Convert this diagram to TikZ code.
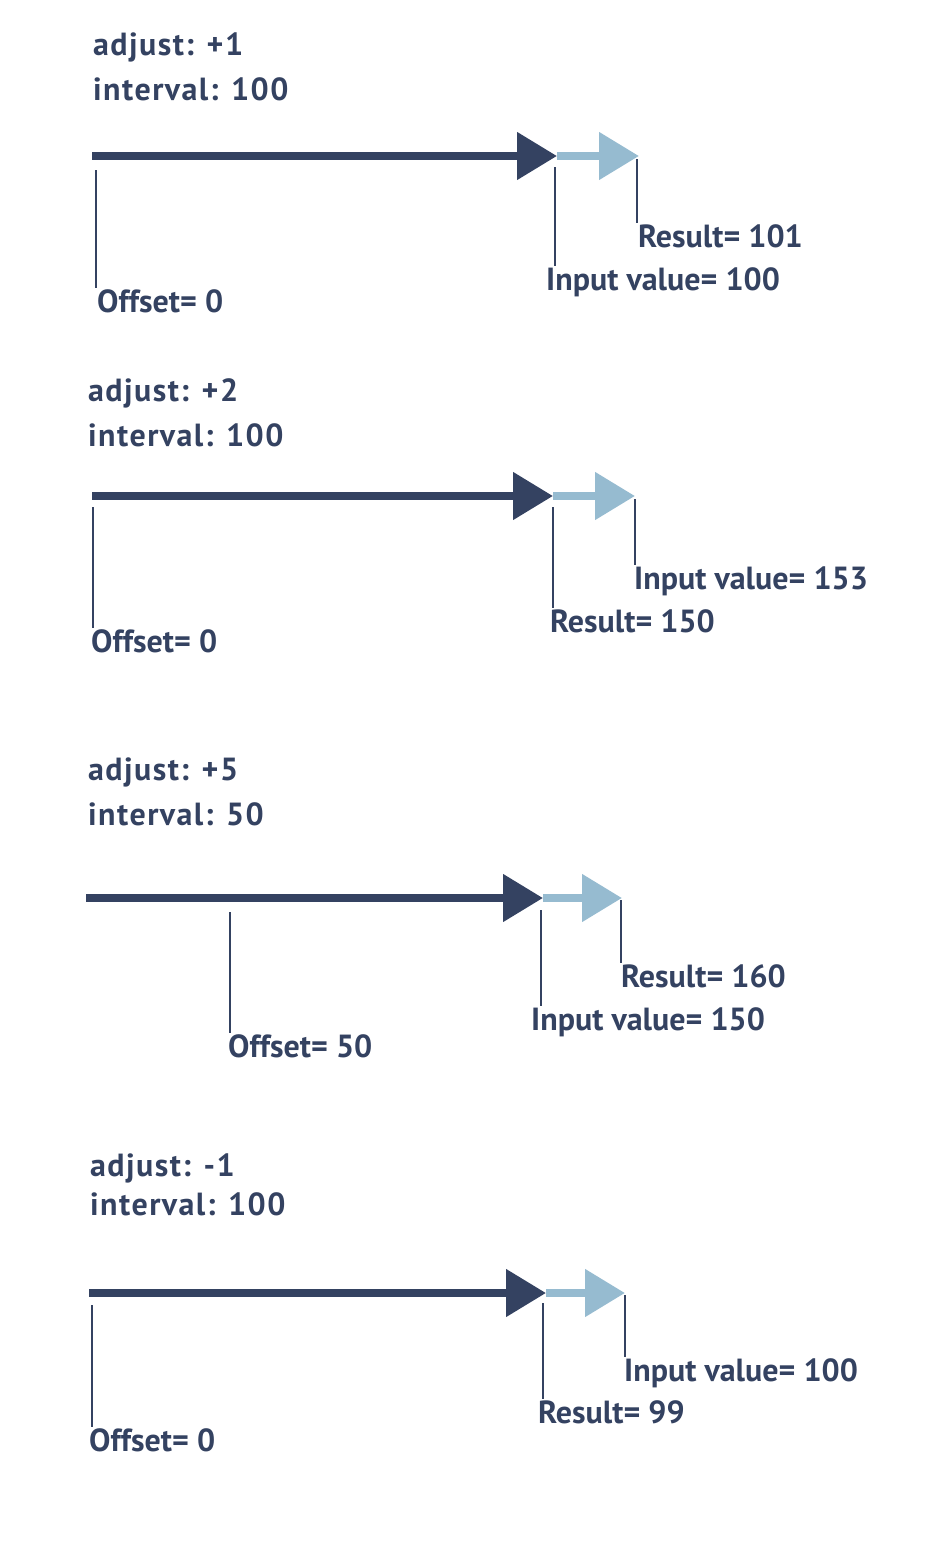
\documentclass[tikz,border=0pt]{standalone}
\usepackage{fontspec}
\setmainfont{PT Sans}
\newfontfamily\headfont{PT Sans}[LetterSpace=4.5]
\usepackage{tikz}
\usetikzlibrary{arrows.meta, positioning, calc}
\usepackage{xcolor}
\definecolor{navy}{RGB}{52,66,97}
\definecolor{skyblue}{RGB}{150,187,208}
\tikzstyle{heading} = [anchor=base west, inner sep=0pt, text=navy, font=\headfont\fontsize{32}{38}\selectfont\bfseries]
\tikzstyle{valuetext} = [anchor=base west, inner sep=1pt, text=navy, font=\fontsize{32}{38}\selectfont\bfseries]
\tikzstyle{shaft} = [line width=8pt, -{Triangle[length=40pt, width=46pt]}]
\tikzstyle{leader} = [draw=navy, line width=2.5pt]

\begin{document}
\begin{tikzpicture}[x=1pt, y=-1pt]
    \useasboundingbox (0,0) rectangle (935,1552);

    % panel 1
    \node (adj1) [heading] at (93,56) {adjust: +1};
    \node (int1) [heading] at (93,101) {interval: 100};
    \coordinate (s1) at (92,156);
    \coordinate (d1) at (557,156);
    \coordinate (l1) at (639,156);
    \draw [shaft, skyblue] (d1) -- (l1);
    \draw [shaft, navy] (s1) -- (d1);
    \node (off1) [valuetext] at (96,312) {Offset= 0};
    \node (inp1) [valuetext] at (545,290) {Input value= 100};
    \node (res1) [valuetext] at (637,247) {Result= 101};
    \coordinate (o1) at (96,170);
    \coordinate (i1) at (555,167);
    \coordinate (r1) at (637,159);
    \draw [leader] (o1) -- (o1 |- off1.north);
    \draw [leader] (i1) -- (i1 |- inp1.north);
    \draw [leader] (r1) -- (r1 |- res1.north);

    % panel 2
    \node (adj2) [heading] at (88,401) {adjust: +2};
    \node (int2) [heading] at (88,446) {interval: 100};
    \coordinate (s2) at (92,496);
    \coordinate (d2) at (553,496);
    \coordinate (l2) at (635,496);
    \draw [shaft, skyblue] (d2) -- (l2);
    \draw [shaft, navy] (s2) -- (d2);
    \node (off2) [valuetext] at (90,652) {Offset= 0};
    \node (res2) [valuetext] at (549,632) {Result= 150};
    \node (inp2) [valuetext] at (633,589) {Input value= 153};
    \coordinate (o2) at (93,507);
    \coordinate (r2) at (553,507);
    \coordinate (i2) at (635,499);
    \draw [leader] (o2) -- (o2 |- off2.north);
    \draw [leader] (r2) -- (r2 |- res2.north);
    \draw [leader] (i2) -- (i2 |- inp2.north);

    % panel 3
    \node (adj3) [heading] at (88,780) {adjust: +5};
    \node (int3) [heading] at (88,825) {interval: 50};
    \coordinate (s3) at (86,898);
    \coordinate (d3) at (543,898);
    \coordinate (l3) at (622,898);
    \draw [shaft, skyblue] (d3) -- (l3);
    \draw [shaft, navy] (s3) -- (d3);
    \node (off3) [valuetext] at (227,1057) {Offset= 50};
    \node (inp3) [valuetext] at (530,1030) {Input value= 150};
    \node (res3) [valuetext] at (620,987) {Result= 160};
    \coordinate (o3) at (230,912);
    \coordinate (i3) at (541,910);
    \coordinate (r3) at (621,900);
    \draw [leader] (o3) -- (o3 |- off3.north);
    \draw [leader] (i3) -- (i3 |- inp3.north);
    \draw [leader] (r3) -- (r3 |- res3.north);

    % panel 4
    \node (adj4) [heading] at (90,1176) {adjust: -1};
    \node (int4) [heading] at (90,1215) {interval: 100};
    \coordinate (s4) at (89,1293);
    \coordinate (d4) at (546,1293);
    \coordinate (l4) at (625,1293);
    \draw [shaft, skyblue] (d4) -- (l4);
    \draw [shaft, navy] (s4) -- (d4);
    \node (off4) [valuetext] at (88,1451) {Offset= 0};
    \node (res4) [valuetext] at (537,1423) {Result= 99};
    \node (inp4) [valuetext] at (623,1381) {Input value= 100};
    \coordinate (o4) at (92,1305);
    \coordinate (r4) at (543,1303);
    \coordinate (i4) at (625,1295);
    \draw [leader] (o4) -- (o4 |- off4.north);
    \draw [leader] (r4) -- (r4 |- res4.north);
    \draw [leader] (i4) -- (i4 |- inp4.north);
\end{tikzpicture}
\end{document}
